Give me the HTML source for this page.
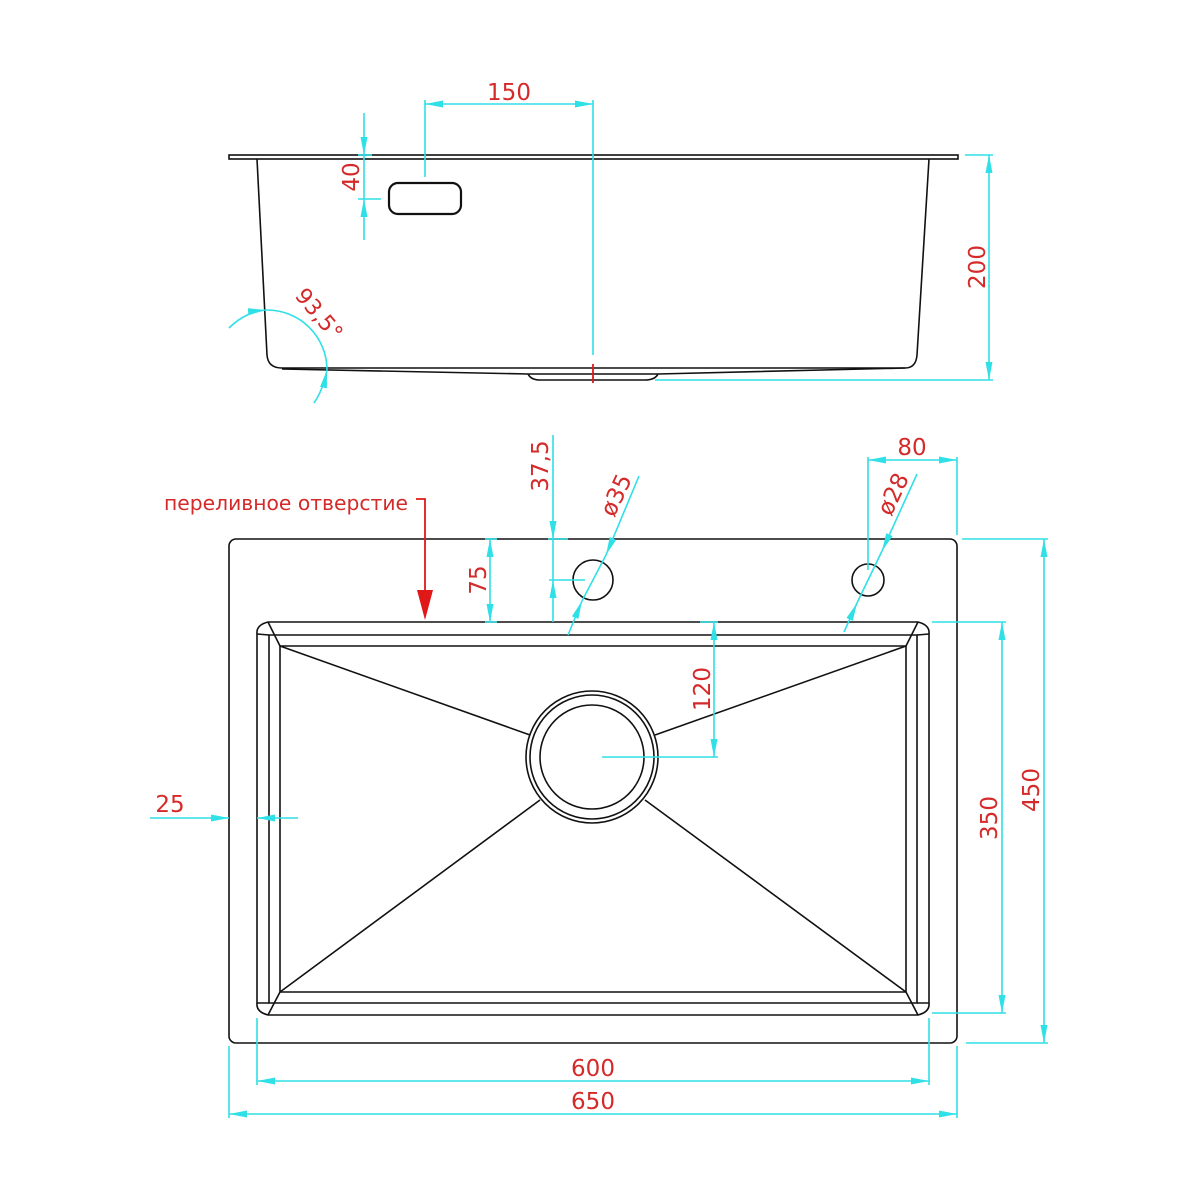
<!DOCTYPE html>
<html><head><meta charset="utf-8"><style>html,body{margin:0;padding:0;background:#fff}svg{display:block}</style></head>
<body>
<svg width="1200" height="1200" viewBox="0 0 1200 1200" xmlns="http://www.w3.org/2000/svg">
<defs>
<marker id="a" viewBox="0 0 18 7" refX="18" refY="3.5" markerWidth="18" markerHeight="7" markerUnits="userSpaceOnUse" orient="auto-start-reverse"><path d="M0,0 L18,3.5 L0,7 Z" fill="#2fe0e6"/></marker>
</defs>
<g fill="none" stroke="#111" stroke-width="1.6">
<!-- side view -->
<rect x="229" y="155" width="729" height="4"/>
<path d="M257,159 L267,355 Q268,368 282,368 L905,368 Q916,368 917,355 L929,159"/>
<path d="M282,369 L528,374 L658,374 L905,368"/>
<path d="M528,374 Q531,380 540,380 L645,380 Q655,380 658,374"/>
<rect x="389" y="183" width="72" height="31" rx="9" stroke-width="2.2"/>
<!-- plan -->
<rect x="229" y="539" width="728" height="504" rx="7"/>
<path d="M268,622 L918,622 Q930,625 929,634 L929,1003 Q930,1012 918,1015 L268,1015 Q256,1012 257,1003 L257,634 Q256,625 268,622 Z"/>
<path d="M269,635 L917,635 L917,1003 L269,1003 Z"/>
<path d="M280,646 L906,646 L906,992 L280,992 Z"/>
<path d="M257,634 L269,635 M268,622 L280,646 M918,622 L906,646 M929,634 L917,635 M257,1003 L269,1003 M268,1015 L280,992 M918,1015 L906,992 M929,1003 L917,1003"/>
<path d="M280,646 L530,735 M906,646 L655,735 M280,992 L540,800 M906,992 L645,800"/>
<circle cx="592" cy="757" r="66"/>
<circle cx="592" cy="757" r="62"/>
<circle cx="592" cy="757" r="52"/>
<circle cx="593" cy="580" r="20"/>
<circle cx="868" cy="580" r="16"/>
</g>
<line x1="593" y1="364" x2="593" y2="383" stroke="#e01818" stroke-width="1.8"/>
<g fill="none" stroke="#2fe0e6" stroke-width="1.6">
<line x1="425" y1="104" x2="593" y2="104" marker-start="url(#a)" marker-end="url(#a)"/>
<line x1="425" y1="100" x2="425" y2="177"/>
<line x1="593" y1="100" x2="593" y2="355"/>
<line x1="364" y1="113" x2="364" y2="155" marker-end="url(#a)"/>
<line x1="364" y1="240" x2="364" y2="199" marker-end="url(#a)"/>
<line x1="364" y1="155" x2="364" y2="199"/>
<line x1="358" y1="155" x2="372" y2="155"/>
<line x1="358" y1="199" x2="381" y2="199"/>
<line x1="989" y1="155" x2="989" y2="380" marker-start="url(#a)" marker-end="url(#a)"/>
<line x1="965" y1="155" x2="993" y2="155"/>
<line x1="655" y1="380" x2="993" y2="380"/>
<path d="M229,328 Q245,312 266,310" marker-end="url(#a)"/>
<path d="M266,310 A60,60 0 0 1 327,370"/>
<path d="M314,403 Q323,390 327,370" marker-end="url(#a)"/>
<line x1="490" y1="539" x2="490" y2="622" marker-start="url(#a)" marker-end="url(#a)"/>
<line x1="485" y1="539" x2="497" y2="539"/>
<line x1="485" y1="622" x2="497" y2="622"/>
<line x1="553" y1="435" x2="553" y2="539" marker-end="url(#a)"/>
<line x1="553" y1="622" x2="553" y2="580" marker-end="url(#a)"/>
<line x1="553" y1="539" x2="553" y2="580"/>
<line x1="548" y1="539" x2="568" y2="539"/>
<line x1="549" y1="580" x2="585" y2="580"/>
<line x1="639" y1="476" x2="606" y2="555" marker-end="url(#a)"/>
<line x1="568" y1="635" x2="582" y2="601" marker-end="url(#a)"/>
<line x1="606" y1="555" x2="582" y2="601"/>
<line x1="868" y1="460" x2="957" y2="460" marker-start="url(#a)" marker-end="url(#a)"/>
<line x1="868" y1="457" x2="868" y2="570"/>
<line x1="957" y1="457" x2="957" y2="535"/>
<line x1="917" y1="474" x2="882" y2="551" marker-end="url(#a)"/>
<line x1="844" y1="632" x2="857" y2="603" marker-end="url(#a)"/>
<line x1="882" y1="551" x2="857" y2="603"/>
<line x1="714" y1="622" x2="714" y2="757" marker-start="url(#a)" marker-end="url(#a)"/>
<line x1="700" y1="622" x2="718" y2="622"/>
<line x1="602" y1="757" x2="718" y2="757"/>
<line x1="1002" y1="622" x2="1002" y2="1013" marker-start="url(#a)" marker-end="url(#a)"/>
<line x1="932" y1="622" x2="1006" y2="622"/>
<line x1="932" y1="1013" x2="1006" y2="1013"/>
<line x1="1044" y1="539" x2="1044" y2="1043" marker-start="url(#a)" marker-end="url(#a)"/>
<line x1="962" y1="539" x2="1048" y2="539"/>
<line x1="966" y1="1043" x2="1048" y2="1043"/>
<line x1="150" y1="818" x2="229" y2="818" marker-end="url(#a)"/>
<line x1="298" y1="818" x2="257" y2="818" marker-end="url(#a)"/>
<line x1="257" y1="1081" x2="929" y2="1081" marker-start="url(#a)" marker-end="url(#a)"/>
<line x1="257" y1="1018" x2="257" y2="1085"/>
<line x1="929" y1="1018" x2="929" y2="1085"/>
<line x1="229" y1="1114" x2="957" y2="1114" marker-start="url(#a)" marker-end="url(#a)"/>
<line x1="229" y1="1046" x2="229" y2="1118"/>
<line x1="957" y1="1046" x2="957" y2="1118"/>
</g>
<g stroke="#e01818" stroke-width="1.8" fill="none">
<path d="M416,499 L425,499 L425,592"/>
</g>
<path d="M417,590 L433,590 L425,620 Z" fill="#e01818"/>
<g fill="#d42a2a" font-family="'DejaVu Sans','Liberation Sans',sans-serif" font-size="23">
<text x="509" y="100" text-anchor="middle">150</text>
<text transform="translate(359,177) rotate(-90)" text-anchor="middle">40</text>
<text transform="translate(985,267) rotate(-90)" text-anchor="middle">200</text>
<text transform="translate(294,296) rotate(50)" font-size="22">93,5°</text>
<text transform="translate(486,580) rotate(-90)" text-anchor="middle">75</text>
<text transform="translate(548,466) rotate(-90)" text-anchor="middle">37,5</text>
<text transform="translate(614,518) rotate(-65)">ø35</text>
<text transform="translate(891,517) rotate(-65)">ø28</text>
<text x="912" y="455" text-anchor="middle">80</text>
<text transform="translate(710,689) rotate(-90)" text-anchor="middle">120</text>
<text transform="translate(997,818) rotate(-90)" text-anchor="middle">350</text>
<text transform="translate(1039,790) rotate(-90)" text-anchor="middle">450</text>
<text x="170" y="812" text-anchor="middle">25</text>
<text x="593" y="1076" text-anchor="middle">600</text>
<text x="593" y="1109" text-anchor="middle">650</text>
<text x="164" y="510" font-size="20" textLength="244" lengthAdjust="spacingAndGlyphs">переливное отверстие</text>
</g>
</svg>
</body></html>
